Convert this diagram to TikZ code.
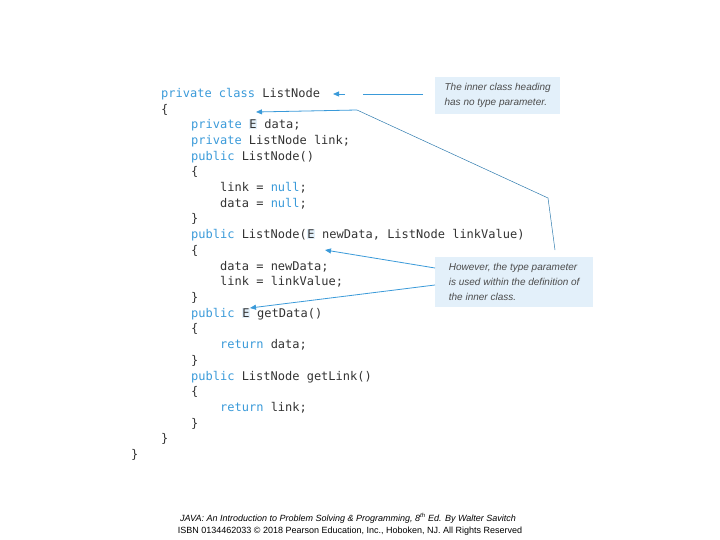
\documentclass[tikz,border=0pt]{standalone}
\usepackage{fontspec}
\setmonofont{DejaVu Sans Mono}
\setsansfont{Liberation Sans}
\usetikzlibrary{arrows.meta,calc}
\definecolor{kw}{HTML}{3A9AD9}
\definecolor{boxbg}{HTML}{E3F0FA}
\definecolor{code}{HTML}{333333}
\newcommand{\kw}[1]{\textcolor{kw}{#1}}
\newcommand{\hE}{\begingroup\setlength{\fboxsep}{0.5pt}\colorbox{boxbg}{E}\endgroup}
\begin{document}
\begin{tikzpicture}[x=1pt,y=-1pt,
  cl/.style={anchor=west,inner sep=0pt,font=\fontsize{12}{12}\ttfamily,text=code},
  note/.style={fill=boxbg,anchor=north west,inner sep=4pt,align=left,text=black!70,font=\sffamily\itshape\fontsize{10}{15}\selectfont},
  arr/.style={draw=kw,line width=0.8pt,-{Triangle[length=6pt,width=5pt]}},
  thin/.style={draw=kw!80!black,line width=0.5pt}]
\useasboundingbox (0,0) rectangle (720,540);
\node[cl] (l1) at (161,94) {\kw{private class} ListNode};
\node[cl] (l2) at (161,110) {\{};
\node[cl] (l3) at (191,125) {\kw{private} \hE\ data;};
\node[cl] (l4) at (191,141) {\kw{private} ListNode link;};
\node[cl] (l5) at (191,157) {\kw{public} ListNode()};
\node[cl] (l6) at (191,172) {\{};
\node[cl] (l7) at (220,188) {link = \kw{null};};
\node[cl] (l8) at (220,204) {data = \kw{null};};
\node[cl] (l9) at (191,219) {\}};
\node[cl] (l10) at (191,235) {\kw{public} ListNode(\hE\ newData, ListNode linkValue)};
\node[cl] (l11) at (191,251) {\{};
\node[cl] (l12) at (220,267) {data = newData;};
\node[cl] (l13) at (220,282) {link = linkValue;};
\node[cl] (l14) at (191,298) {\}};
\node[cl] (l15) at (191,314) {\kw{public} \hE\ getData()};
\node[cl] (l16) at (191,329) {\{};
\node[cl] (l17) at (220,345) {\kw{return} data;};
\node[cl] (l18) at (191,361) {\}};
\node[cl] (l19) at (191,377) {\kw{public} ListNode getLink()};
\node[cl] (l20) at (191,392) {\{};
\node[cl] (l21) at (220,408) {\kw{return} link;};
\node[cl] (l22) at (191,424) {\}};
\node[cl] (l23) at (161,439) {\}};
\node[cl] (l24) at (131,455) {\}};
\node[note,minimum width=125pt,minimum height=37pt] (n1) at (435,77) {The inner class heading\\has no type parameter.};
\node[note,minimum width=158pt,minimum height=50pt] (n2) at (435,257) {However, the type parameter\\is used within the definition of\\the inner class.};
\coordinate (a1s) at (423,94);
\coordinate (a1g) at (363,94);
\coordinate (a1e) at (333,94);
\coordinate (a1t) at (345,94);
\draw[thin,draw=kw,line width=0.8pt] (a1s) -- (a1g);
\draw[arr] (a1t) -- (a1e);
\coordinate (a2s) at (357,110);
\coordinate (a2e) at (256,112);
\coordinate (bend) at (548,198);
\coordinate (bend2) at (555,250);
\draw[arr] (a2s) -- (a2e);
\draw[thin] (a2s) -- (bend) -- (bend2);
\coordinate (b1) at (435,268);
\coordinate (b2) at (435,285);
\draw[arr] (b1) -- (325,250);
\draw[arr] (b2) -- (250,308);
\node[font=\sffamily\itshape\fontsize{9}{9}\selectfont,inner sep=0pt] (f1) at (348,518) {JAVA: An Introduction to Problem Solving \& Programming, 8\textsuperscript{th} Ed. By Walter Savitch};
\node[font=\sffamily\fontsize{9}{9}\selectfont,inner sep=0pt] (f2) at (350,531) {ISBN 0134462033 © 2018 Pearson Education, Inc., Hoboken, NJ. All Rights Reserved};
\end{tikzpicture}
\end{document}
